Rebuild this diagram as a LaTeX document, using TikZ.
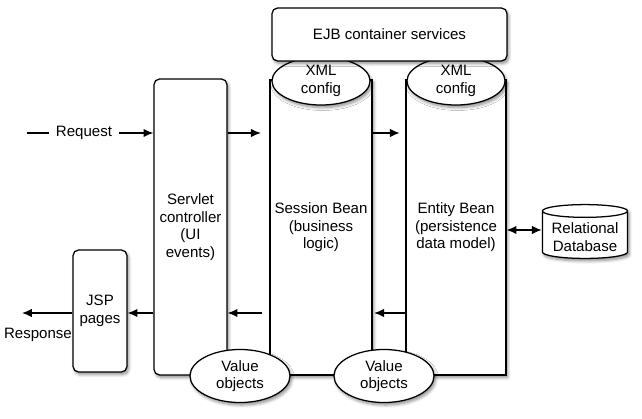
\documentclass[tikz,border=0pt]{standalone}
\usepackage{fontspec}
\setmainfont{Liberation Sans}
\usepackage{tikz}
\usetikzlibrary{arrows.meta,shapes.geometric,shadows.blur}
\tikzset{
	soft/.style={
			blur shadow={shadow xshift=1.2pt, shadow yshift=-1.8pt, shadow blur steps=6, shadow opacity=45}
		}
}
\tikzstyle{box} = [draw, line width=0.9pt, rounded corners=4pt, fill=white, soft, align=center]
\tikzstyle{bean} = [draw, line width=0.9pt, fill=white, soft, align=center, minimum width=2.5cm, minimum height=7.375cm]
\tikzstyle{oval} = [draw, line width=0.9pt, ellipse, fill=white, soft, align=center, inner sep=0pt]
\tikzstyle{a} = [line width=0.9pt, -{Latex[length=7pt,width=6pt]}]
\tikzstyle{aa} = [line width=0.9pt, {Latex[length=7pt,width=6pt]}-{Latex[length=7pt,width=6pt]}]

\begin{document}
\begin{tikzpicture}[x=0.025cm, y=-0.025cm, every node/.style={font=\fontsize{10.7}{12.5}\selectfont}]
  \useasboundingbox (0,0) rectangle (642,419);
  % Nodes
  \node[bean] (session) at (321,227.5) {Session Bean\\(business\\logic)};
  \node[bean] (entity)  at (456,227.5) {Entity Bean\\(persistence\\data model)};

  \node[oval, minimum width=2.45cm, minimum height=1.2cm] (xmlA) at (321,81) {XML\\config};
  \node[oval, minimum width=2.45cm, minimum height=1.2cm] (xmlB) at (456,81) {XML\\config};

  \node[box, minimum width=5.875cm, minimum height=1.325cm] (ejb) at (389.5,34.5) {EJB container services};

  \node[box, minimum width=1.825cm, minimum height=7.4cm] (servlet) at (190.5,227) {Servlet\\controller\\(UI\\events)};
  \node[box, minimum width=1.35cm, minimum height=3.05cm] (jsp) at (100,311) {JSP\\pages};

  \node[oval, minimum width=2.5cm, minimum height=1.325cm] (voA) at (240,376) {Value\\objects};
  \node[oval, minimum width=2.5cm, minimum height=1.325cm] (voB) at (384,376) {Value\\objects};

  \node[cylinder, draw, line width=0.9pt, shape border rotate=90, aspect=0.15, fill=white, soft, align=center,
        inner xsep=6.5pt, minimum height=1.325cm] (db) at (585,237) {Relational\\Database};

  \coordinate (reqstart) at (27,133);
  \node[inner sep=5pt] (request) at (84,133) {Request};
  \coordinate (back) at (0,313);
  \coordinate (respend) at (22,313);
  \coordinate (dblink) at (0,230);
  \node (response) at (38,335) {Response};

  % Arrows
  \draw[line width=0.9pt] (reqstart) -- (request);
  \draw[a] (request) -- (servlet.west |- request);
  \draw[a, shorten >=6pt] (servlet.east |- request) -- (session.west |- request);
  \draw[a, shorten >=4pt] (session.east |- request) -- (entity.west |- request);

  \draw[a] (entity.west |- back) -- ([xshift=1pt]session.east |- back);
  \draw[a] ([xshift=-5pt]session.west |- back) -- (servlet.east |- back);
  \draw[a] (servlet.west |- back) -- (jsp.east |- back);
  \draw[a] (jsp.west |- back) -- (respend);

  \draw[aa] (entity.east |- dblink) -- (db.west |- dblink);
\end{tikzpicture}
\end{document}
